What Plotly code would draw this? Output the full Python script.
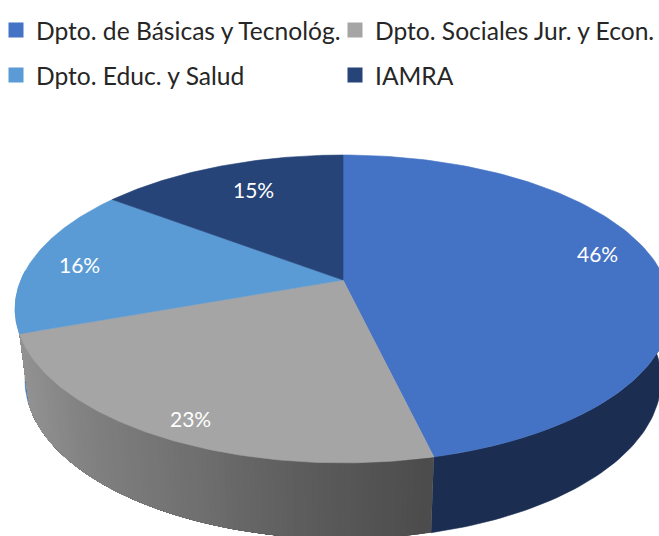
import numpy as np
import plotly.graph_objects as go

# ---- data ----
categories = ["Dpto. de Básicas y Tecnológ.", "Dpto. Sociales Jur. y Econ.", "Dpto. Educ. y Salud", "IAMRA"]
values = [46.3, 23.2, 15.8, 14.7]

# ---- styles ----
top_colors = ["#4472C4", "#A5A5A5", "#5B9BD5", "#264478"]
FONT = "Lato"
W, H = 659, 536
# top ring / bottom ring of the perspective pie
CX, CY_TOP, A_TOP, B_TOP = 343, 280, 322, 148.5
CY_BOT, A_BOT, B_BOT = 350, 312.4, 153.4
K = 0.188
label_pos = [(597, 253), (190, 418), (79, 264), (253, 189)]
legend_pos = [(-4, 30), (335, 30), (-4, 75), (335, 75)]
grad_x = [25, 100, 200, 300, 431]
grad_v = [148, 128, 112, 94, 76]


def ring(frac, cy, a, b, r=1.0):
    t = 2 * np.pi * np.asarray(frac)
    u, v = r * np.sin(t), r * np.cos(t)
    w = 1 + K * v
    return CX + a * u / w, cy - b * v / w


total = sum(values)
edges = np.cumsum([0] + values) / total

fig = go.Figure()


def poly(x, y, color, name, lw=0.6):
    fig.add_trace(go.Scatter(x=x, y=y, mode="lines", fill="toself", fillcolor=color,
                             line=dict(color=color, width=lw), name=name,
                             showlegend=False, hoverinfo="name"))


def wall(f0, f1, color, name, lw=0.6):
    f = np.linspace(f0, f1, 60)
    xt, yt = ring(f, CY_TOP, A_TOP, B_TOP)
    xb, yb = ring(f, CY_BOT, A_BOT, B_BOT)
    poly(np.r_[xt, xb[::-1]], np.r_[yt, yb[::-1]], color, name, lw)


# side walls (only front half is visible)
wall(edges[2], 0.76, "#3F7DC0", categories[2])
wall(0.25, edges[1], "#1B2D50", categories[0])
# gray wall: each band runs to the far end, so the next one paints over it without a seam
gray_steps = np.linspace(edges[1], edges[2], 90)
for f0 in gray_steps[:-1]:
    xm, _ = ring(f0, CY_BOT, A_BOT, B_BOT)
    g = int(np.interp(xm, grad_x, grad_v))
    wall(f0, edges[2], f"rgb({g},{g},{g})", categories[1], 0)

# top faces
for i, cat in enumerate(categories):
    f = np.linspace(edges[i], edges[i + 1], 120)
    x, y = ring(f, CY_TOP, A_TOP, B_TOP)
    poly(np.r_[CX, x, CX], np.r_[CY_TOP, y, CY_TOP], top_colors[i], cat)

# legend
legend_layout = {}
for i, cat in enumerate(categories):
    key = "legend" if i == 0 else f"legend{i + 1}"
    fig.add_trace(go.Scatter(x=[None], y=[None], mode="markers", name=cat, legend=key,
                             marker=dict(symbol="square", size=15, color=top_colors[i]),
                             showlegend=True))
    lx, ly = legend_pos[i]
    legend_layout[key] = dict(x=lx / W, y=1 - ly / H, xanchor="left", yanchor="middle",
                              bgcolor="rgba(0,0,0,0)", borderwidth=0,
                              font=dict(family=FONT, size=24.6, color="#262626"))

annotations = [
    dict(x=px, y=py, xref="x", yref="y", text=f"{round(v / total * 100)}%", showarrow=False,
         font=dict(family=FONT, size=21, color="white"))
    for v, (px, py) in zip(values, label_pos)
]

fig.update_layout(
    width=W, height=H, margin=dict(l=0, r=0, t=0, b=0, autoexpand=False),
    paper_bgcolor="white", plot_bgcolor="white",
    xaxis=dict(range=[0, W], visible=False, fixedrange=True),
    yaxis=dict(range=[H, 0], visible=False, fixedrange=True),
    annotations=annotations,
    **legend_layout,
)
fig.write_html("out.html", config=dict(displayModeBar=False),
               post_script="document.body.style.margin='0';document.documentElement.style.overflow='hidden';")
